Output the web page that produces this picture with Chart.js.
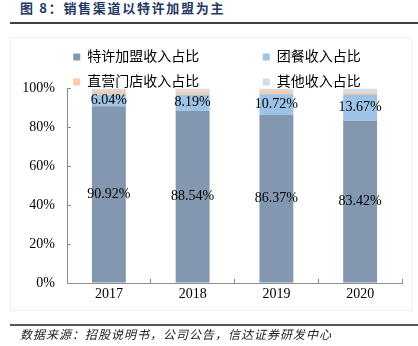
<!DOCTYPE html>
<html>
<head>
<meta charset="utf-8">
<script src="https://cdn.jsdelivr.net/npm/chart.js@4/dist/chart.umd.min.js"></script>
<style>
    html, body { margin: 0; padding: 0; background: #fff; }
    #wrap { position: relative; width: 418px; height: 346px; overflow: hidden; }
    #chart { position: absolute; left: 0; top: 0; }
    .title { position: absolute; left: 20px; top: -2px; font: bold 13px "Noto Sans CJK SC", sans-serif; letter-spacing: 1.7px; color: #1f3864; white-space: nowrap; }
    .rule { position: absolute; left: 10px; width: 408px; height: 2px; background: #404040; }
    .frame { position: absolute; left: 10px; top: 37px; width: 400px; height: 272px; border: 1px solid #f0f0f0; }
    .source { position: absolute; left: 20px; top: 325px; font: italic 12px "Noto Sans CJK SC", sans-serif; letter-spacing: 1px; color: #222; white-space: nowrap; }
</style>
</head>
<body>
<div id="wrap">
    <div class="title">图 8：销售渠道以特许加盟为主</div>
    <div class="rule" style="top:22px"></div>
    <div class="frame"></div>
    <canvas id="chart" width="418" height="346"></canvas>
    <div class="rule" style="top:324px; background:#555"></div>
    <div class="source">数据来源：招股说明书，公司公告，信达证券研发中心</div>
</div>
<script>
// Dati
const years = ['2017', '2018', '2019', '2020'];
const seriesNames = ['特许加盟收入占比', '团餐收入占比', '直营门店收入占比', '其他收入占比'];
const franchise = [90.92, 88.54, 86.37, 83.42];
const groupMeal = [6.04, 8.19, 10.72, 13.67];
const directStore = [1.8, 1.8, 1.6, 1.0];
const others = [1.24, 1.47, 1.31, 1.91];
const yTicks = [0, 20, 40, 60, 80, 100];

const colors = ['#8497b0', '#9dc3e6', '#f8cbad', '#d6dce5'];
const serif = '"Liberation Serif", "Noto Sans CJK SC", serif';
const axisColor = '#8c8c8c';

// Etichette dentro le barre (solo le prime due serie)
const barLabels = {
    id: 'barLabels',
    afterDatasetsDraw(chart) {
        const ctx = chart.ctx;
        ctx.save();
        ctx.font = '14px ' + serif;
        ctx.fillStyle = '#000';
        ctx.textAlign = 'center';
        ctx.textBaseline = 'middle';
        [0, 1].forEach(di => {
            const meta = chart.getDatasetMeta(di);
            meta.data.forEach((bar, i) => {
                const v = chart.data.datasets[di].data[i];
                ctx.fillText(v.toFixed(2) + '%', bar.x, (bar.y + bar.base) / 2);
            });
        });
        ctx.restore();
    }
};

const datasets = [franchise, groupMeal, directStore, others].map((data, i) => ({
    label: seriesNames[i],
    data: data,
    backgroundColor: colors[i],
    borderWidth: 0,
    barPercentage: 0.405,
    categoryPercentage: 1
}));

// i nomi della prima colonna vengono allungati per avere due colonne nella legenda
const padLabel = ' '.repeat(15);

new Chart(document.getElementById('chart').getContext('2d'), {
    type: 'bar',
    data: { labels: years, datasets: datasets },
    options: {
        responsive: false,
        animation: false,
        layout: { padding: { left: 16, right: 0, top: 39, bottom: 33 } },
        plugins: {
            tooltip: { enabled: false },
            legend: {
                position: 'top',
                align: 'center',
                maxHeight: 49.5,
                labels: {
                    boxWidth: 7,
                    boxHeight: 7,
                    padding: 11,
                    color: '#000',
                    font: { size: 14, family: serif },
                    generateLabels(chart) {
                        return chart.data.datasets.map((ds, i) => ({
                            text: (i % 2 === 0) ? ds.label + padLabel : ds.label,
                            fillStyle: ds.backgroundColor,
                            strokeStyle: ds.backgroundColor,
                            lineWidth: 0,
                            hidden: false,
                            datasetIndex: i
                        }));
                    }
                }
            }
        },
        scales: {
            x: {
                stacked: true,
                grid: { offset: true, drawOnChartArea: false, tickLength: -4, color: axisColor },
                border: { color: axisColor },
                ticks: { color: '#000', padding: 7, font: { size: 14, family: serif } },
                afterFit(scale) { scale.height = 30; }
            },
            y: {
                stacked: true,
                min: 0,
                max: 100,
                afterBuildTicks(scale) { scale.ticks = yTicks.map(v => ({ value: v })); },
                grid: { drawOnChartArea: false, tickLength: -4, color: axisColor },
                border: { color: axisColor },
                ticks: { color: '#000', padding: 16, font: { size: 14, family: serif }, callback: v => v + '%' },
                afterFit(scale) { scale.width = 51; }
            },
            // asse vuoto a destra, solo per lasciare il margine
            yRight: {
                position: 'right',
                grid: { display: false },
                border: { display: false },
                ticks: { display: false },
                afterFit(scale) { scale.width = 16; }
            }
        }
    },
    plugins: [barLabels]
});
</script>
</body>
</html>
